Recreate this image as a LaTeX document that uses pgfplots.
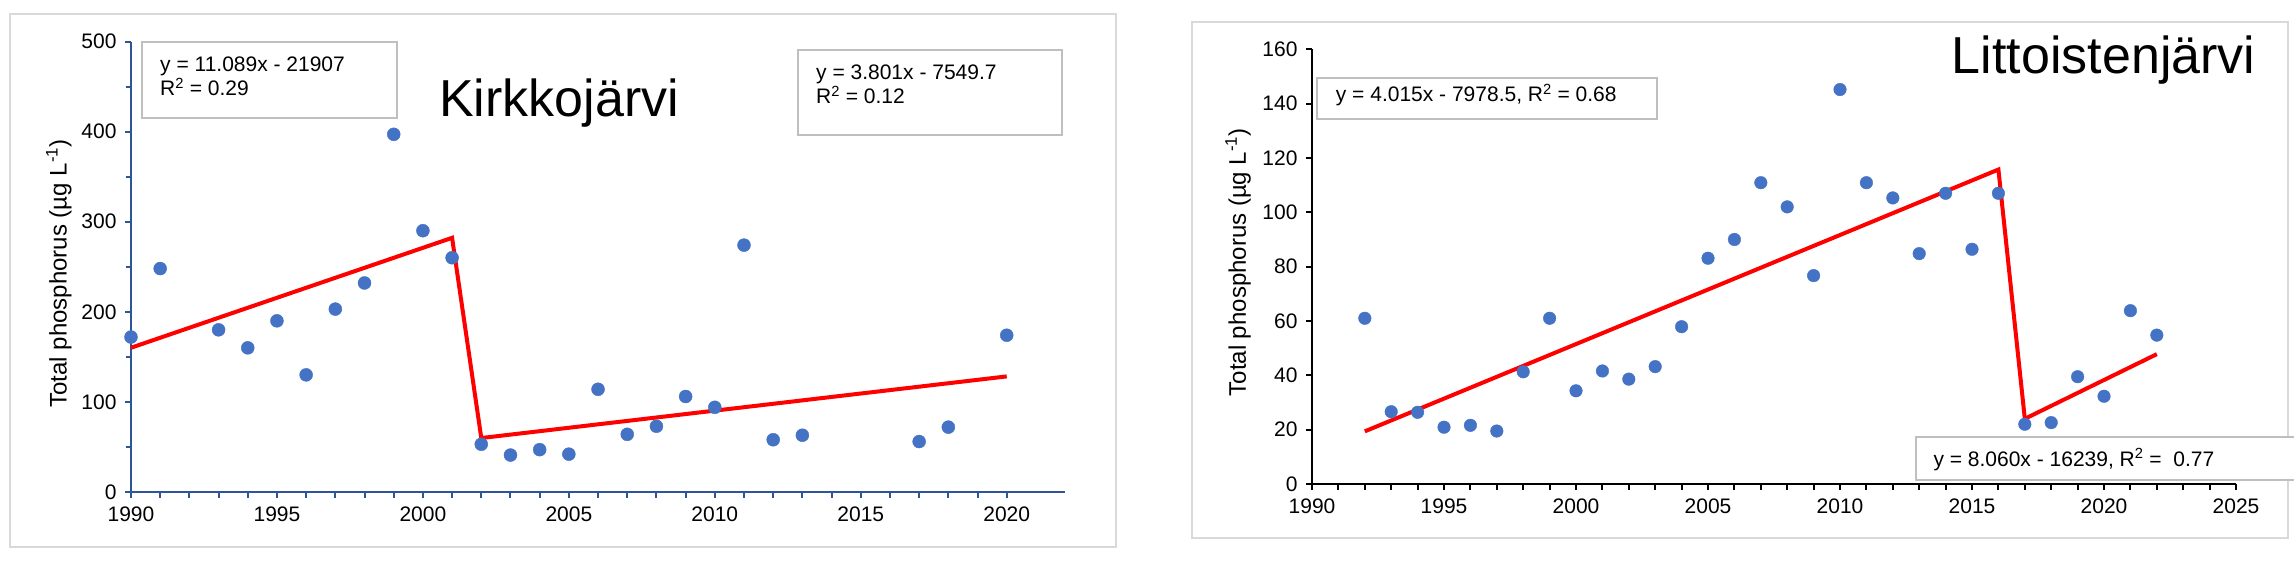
\documentclass[border=0pt]{standalone}
\usepackage{fontspec}
\setmainfont{Liberation Sans}
\usepackage{pgfplots}
\pgfplotsset{compat=1.18}
\definecolor{ptblue}{HTML}{4472C4}
\definecolor{axblue}{HTML}{2F5597}
\definecolor{framegray}{HTML}{D9D9D9}
\definecolor{boxgray}{HTML}{BFBFBF}
\pgfplotstableread{
x y
1990 172
1991 248
1993 180
1994 160
1995 190
1996 130
1997 203
1998 232
1999 397
2000 290
2001 260
2002 53
2003 41
2004 47
2005 42
2006 114
2007 64
2008 73
2009 106
2010 94
2011 274
2012 58
2013 63
2017 56
2018 72
2020 174
}\kirkko
\pgfplotstableread{
x y
1992 61
1993 26.6
1994 26.4
1995 20.9
1996 21.6
1997 19.5
1998 41.3
1999 61
2000 34.3
2001 41.6
2002 38.6
2003 43.2
2004 57.9
2005 83.1
2006 90
2007 110.9
2008 102
2009 76.7
2010 145.2
2011 110.9
2012 105.3
2013 84.8
2014 107
2015 86.4
2016 107
2017 22
2018 22.6
2019 39.5
2020 32.3
2021 63.8
2022 54.8
}\littoinen
\pgfplotsset{
  myaxis/.style={
    scale only axis, anchor=south west, clip=false,
    axis x line*=bottom, axis y line*=left,
    tick align=outside,
    major tick length=6pt, minor tick length=5.5pt,
    xticklabel shift=5pt, yticklabel shift=5pt,
    /pgf/number format/1000 sep={},
    /pgf/number format/assume math mode=true,
    ticklabel style={font=\fontsize{21}{25}\selectfont, text=black},
    label style={font=\fontsize{24}{28}\selectfont, text=black},
    ylabel={Total phosphorus (µg L\textsuperscript{-1})},
  },
}
\begin{document}
\begin{tikzpicture}[x=1pt,y=1pt]
\useasboundingbox (0,0) rectangle (2294,566);
\fill[white] (0,0) rectangle (2294,566);
\draw[framegray, line width=2pt] (10,19.3) rectangle (1116,552);
\draw[framegray, line width=2pt] (1192,28.3) rectangle (2288,544.3);
% ---------- left ----------
\begin{axis}[myaxis,
  at={(131pt,74pt)}, width=934.1pt, height=450.5pt,
  xmin=1990, xmax=2022, ymin=0, ymax=500,
  xtick={1990,1995,...,2020}, minor x tick num=4,
  ytick={0,100,...,500}, minor y tick num=1,
  axis line style={axblue, line width=2pt},
  tick style={axblue, line width=2pt},
  ylabel style={at={(axis description cs:-0.0773,0.485)}, anchor=center},
]
\addplot[red, line width=4pt, line join=miter, no marks] coordinates {(1990,160.1) (2001,282.1) (2002,59.9) (2020,128.3)};
\addplot[ptblue, only marks, mark=*, mark size=6.5pt, mark options={draw=none, fill=ptblue}] table[x=x,y=y] {\kirkko};
\end{axis}
% ---------- right ----------
\begin{axis}[myaxis,
  at={(1312pt,82pt)}, width=924pt, height=434.7pt,
  xmin=1990, xmax=2025, ymin=0, ymax=160,
  xtick={1990,1995,...,2025}, minor x tick num=4,
  ytick={0,20,...,160},
  axis line style={black, line width=2pt},
  tick style={black, line width=2pt},
  ylabel style={at={(axis description cs:-0.080,0.51)}, anchor=center},
]
\addplot[red, line width=4pt, line join=miter, no marks] coordinates {(1992,19.38) (2016,115.74) (2017,24) (2022,47.8)};
\addplot[ptblue, only marks, mark=*, mark size=6.3pt, mark options={draw=none, fill=ptblue}] table[x=x,y=y] {\littoinen};
\end{axis}
% ---------- boxes and titles ----------
\begin{scope}[every node/.style={anchor=base west, inner sep=0pt, font=\fontsize{21}{25}\selectfont}]
\draw[boxgray, line width=2pt, fill=white] (142,448) rectangle (397,524);
\node at (160,494.3) {y = 11.089x - 21907};
\node at (160,470.3) {R\textsuperscript{2} = 0.29};
\draw[boxgray, line width=2pt, fill=white] (798,431) rectangle (1062,516);
\node at (816,486) {y = 3.801x - 7549.7};
\node at (816,462) {R\textsuperscript{2} = 0.12};
\draw[boxgray, line width=2pt, fill=white] (1317,447) rectangle (1657,488);
\node at (1335.7,464.3) {y = 4.015x - 7978.5, R\textsuperscript{2} = 0.68};
\draw[boxgray, line width=2pt, fill=white] (1916,86) rectangle (2296,129);
\node at (1933.3,100) {y = 8.060x - 16239, R\textsuperscript{2} =\ \ 0.77};
\end{scope}
\node[anchor=base west, inner sep=0pt, font=\fontsize{52}{60}\selectfont] at (439,449) {Kirkkojärvi};
\node[anchor=base west, inner sep=0pt, font=\fontsize{52}{60}\selectfont] at (1951.7,492) {Littoistenjärvi};
\end{tikzpicture}
\end{document}
